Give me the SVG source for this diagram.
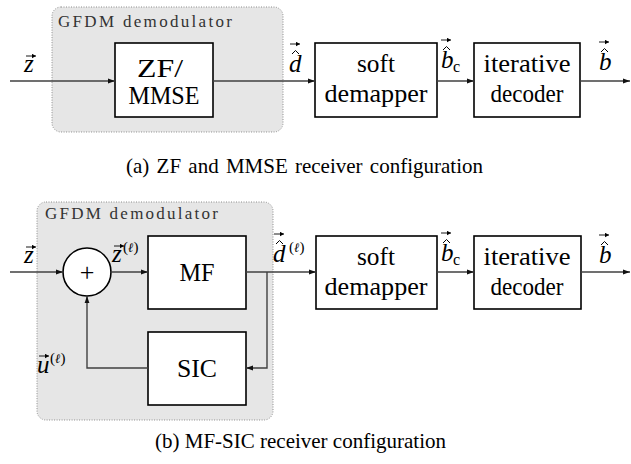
<svg xmlns="http://www.w3.org/2000/svg" width="631" height="464" viewBox="0 0 631 464">
<defs>
<marker id="ah" markerUnits="userSpaceOnUse" markerWidth="8" markerHeight="6" refX="7" refY="3" orient="auto">
<path d="M0,0.6 L7,3 L0,5.4 Z" fill="#111"/>
</marker>
<marker id="va" markerUnits="userSpaceOnUse" markerWidth="5" markerHeight="5" refX="4" refY="2.5" orient="auto">
<path d="M0,0.3 L4,2.5 L0,4.7 Z" fill="#000"/>
</marker>
<style>
.grp{fill:#e6e6e6;stroke:#8c8c8c;stroke-width:1;stroke-dasharray:1 1.5}
.gt{font-family:"Liberation Serif","Times New Roman","DejaVu Serif",serif;font-size:17px;fill:#333}
.box{fill:#fff;stroke:#000;stroke-width:1.6}
.bt{font-family:"Liberation Serif","Times New Roman","DejaVu Serif",serif;font-size:25px;text-anchor:middle;fill:#000}
.m{font-family:"Liberation Serif","Times New Roman","DejaVu Serif",serif;font-style:italic;font-size:25px;fill:#000}
.sup{font-family:"Liberation Serif","DejaVu Serif",serif;font-size:15px;fill:#000}
.ell{font-family:"DejaVu Serif",serif;font-style:italic;font-weight:normal;font-size:13px}
.sub{font-family:"Liberation Serif","Times New Roman","DejaVu Serif",serif;font-size:16px;fill:#000}
.plus{font-family:"Liberation Serif","Times New Roman","DejaVu Serif",serif;font-size:26px;text-anchor:middle;fill:#000}
.cap{font-family:"Liberation Serif","Times New Roman","DejaVu Serif",serif;font-size:21px;fill:#000}
.wa{stroke:#404040;stroke-width:1.4;fill:none;marker-end:url(#ah)}
.vec{stroke:#000;stroke-width:0.9;fill:none;marker-end:url(#va)}
.hat{stroke:#000;stroke-width:1;fill:none}
</style>
</defs>

<!-- (a) -->
<g id="a-demod">
<rect class="grp" x="52" y="7" width="231" height="125" rx="9"/>
<text class="gt" x="58" y="27" textLength="174">GFDM demodulator</text>
</g>
<g id="a-zfmmse">
<rect class="box" x="115" y="43" width="98" height="74"/>
<text class="bt" x="160" y="77" textLength="46" lengthAdjust="spacingAndGlyphs">ZF/</text>
<text class="bt" x="164" y="104" textLength="71" lengthAdjust="spacingAndGlyphs">MMSE</text>
</g>
<g id="a-soft">
<rect class="box" x="315" y="43" width="122" height="74"/>
<text class="bt" x="376" y="72" textLength="38" lengthAdjust="spacingAndGlyphs">soft</text>
<text class="bt" x="376" y="102" textLength="103" lengthAdjust="spacingAndGlyphs">demapper</text>
</g>
<g id="a-dec">
<rect class="box" x="474" y="43" width="106" height="74"/>
<text class="bt" x="527" y="72" textLength="87" lengthAdjust="spacingAndGlyphs">iterative</text>
<text class="bt" x="527" y="102" textLength="73" lengthAdjust="spacingAndGlyphs">decoder</text>
</g>
<g id="a-connectors">
<line class="wa" x1="10" y1="81" x2="115" y2="81"/>
<line class="wa" x1="213" y1="81" x2="315" y2="81"/>
<line class="wa" x1="437" y1="81" x2="474" y2="81"/>
<line class="wa" x1="580" y1="81" x2="630" y2="81"/>
</g>
<g id="a-labels">
<text class="m" x="24" y="72">z</text>
<text class="m" x="289" y="72">d</text>
<text class="m" x="441" y="68">b</text><text class="sub" x="453" y="72">c</text>
<text class="m" x="599" y="70">b</text>
</g>
<g id="a-accents">
<path class="vec" d="M26,56 H36"/>
<path class="hat" d="M292,54 L295.5,50.5 L299,54"/>
<path class="vec" d="M290,44 H300"/>
<path class="hat" d="M443,50 L446.5,46.5 L450,50"/>
<path class="vec" d="M441,40 H451"/>
<path class="hat" d="M601,52 L604.5,48.5 L608,52"/>
<path class="vec" d="M599,42 H609"/>
</g>
<text class="cap" x="126" y="173" word-spacing="2">(a)  ZF and MMSE receiver configuration</text>

<!-- (b) -->
<g id="b-demod">
<rect class="grp" x="37" y="202" width="236" height="218" rx="9"/>
<text class="gt" x="45" y="219" textLength="173">GFDM demodulator</text>
</g>
<g id="b-sum">
<circle cx="87" cy="272" r="24" fill="#fff" stroke="#000" stroke-width="1.6"/>
<text class="plus" x="87" y="281">+</text>
</g>
<g id="b-mf">
<rect class="box" x="148" y="236" width="98" height="73"/>
<text class="bt" x="197" y="281" textLength="35" lengthAdjust="spacingAndGlyphs">MF</text>
</g>
<g id="b-sic">
<rect class="box" x="148" y="332" width="98" height="73"/>
<text class="bt" x="197" y="377" textLength="40" lengthAdjust="spacingAndGlyphs">SIC</text>
</g>
<g id="b-soft">
<rect class="box" x="316" y="236" width="121" height="73"/>
<text class="bt" x="376" y="265" textLength="38" lengthAdjust="spacingAndGlyphs">soft</text>
<text class="bt" x="376" y="295" textLength="103" lengthAdjust="spacingAndGlyphs">demapper</text>
</g>
<g id="b-dec">
<rect class="box" x="474" y="236" width="107" height="73"/>
<text class="bt" x="527" y="265" textLength="87" lengthAdjust="spacingAndGlyphs">iterative</text>
<text class="bt" x="527" y="295" textLength="73" lengthAdjust="spacingAndGlyphs">decoder</text>
</g>
<g id="b-connectors">
<line class="wa" x1="10" y1="272" x2="63" y2="272"/>
<line class="wa" x1="111" y1="272" x2="148" y2="272"/>
<line class="wa" x1="246" y1="272" x2="316" y2="272"/>
<path class="wa" d="M267,272 V368 H246"/>
<path class="wa" d="M148,368 H87 V296"/>
<line class="wa" x1="437" y1="272" x2="474" y2="272"/>
<line class="wa" x1="581" y1="272" x2="630" y2="272"/>
</g>
<g id="b-labels">
<text class="m" x="24" y="263">z</text>
<text class="m" x="112" y="262">z</text><text class="sup" x="123" y="252">(<tspan class="ell">ℓ</tspan>)</text>
<text class="m" x="37" y="373">u</text><text class="sup" x="50" y="363">(<tspan class="ell">ℓ</tspan>)</text>
<text class="m" x="273" y="262">d</text><text class="sup" x="289" y="252">(<tspan class="ell">ℓ</tspan>)</text>
<text class="m" x="441" y="261">b</text><text class="sub" x="453" y="265">c</text>
<text class="m" x="599" y="263">b</text>
</g>
<g id="b-accents">
<path class="vec" d="M26,247 H36"/>
<path class="vec" d="M114,246 H124"/>
<path class="vec" d="M39,356 H49"/>
<path class="hat" d="M276,244 L279.5,240.5 L283,244"/>
<path class="vec" d="M274,234 H284"/>
<path class="hat" d="M443,243 L446.5,239.5 L450,243"/>
<path class="vec" d="M441,233 H451"/>
<path class="hat" d="M601,245 L604.5,241.5 L608,245"/>
<path class="vec" d="M599,235 H609"/>
</g>
<text class="cap" x="155" y="448">(b) MF-SIC receiver configuration</text>
</svg>
